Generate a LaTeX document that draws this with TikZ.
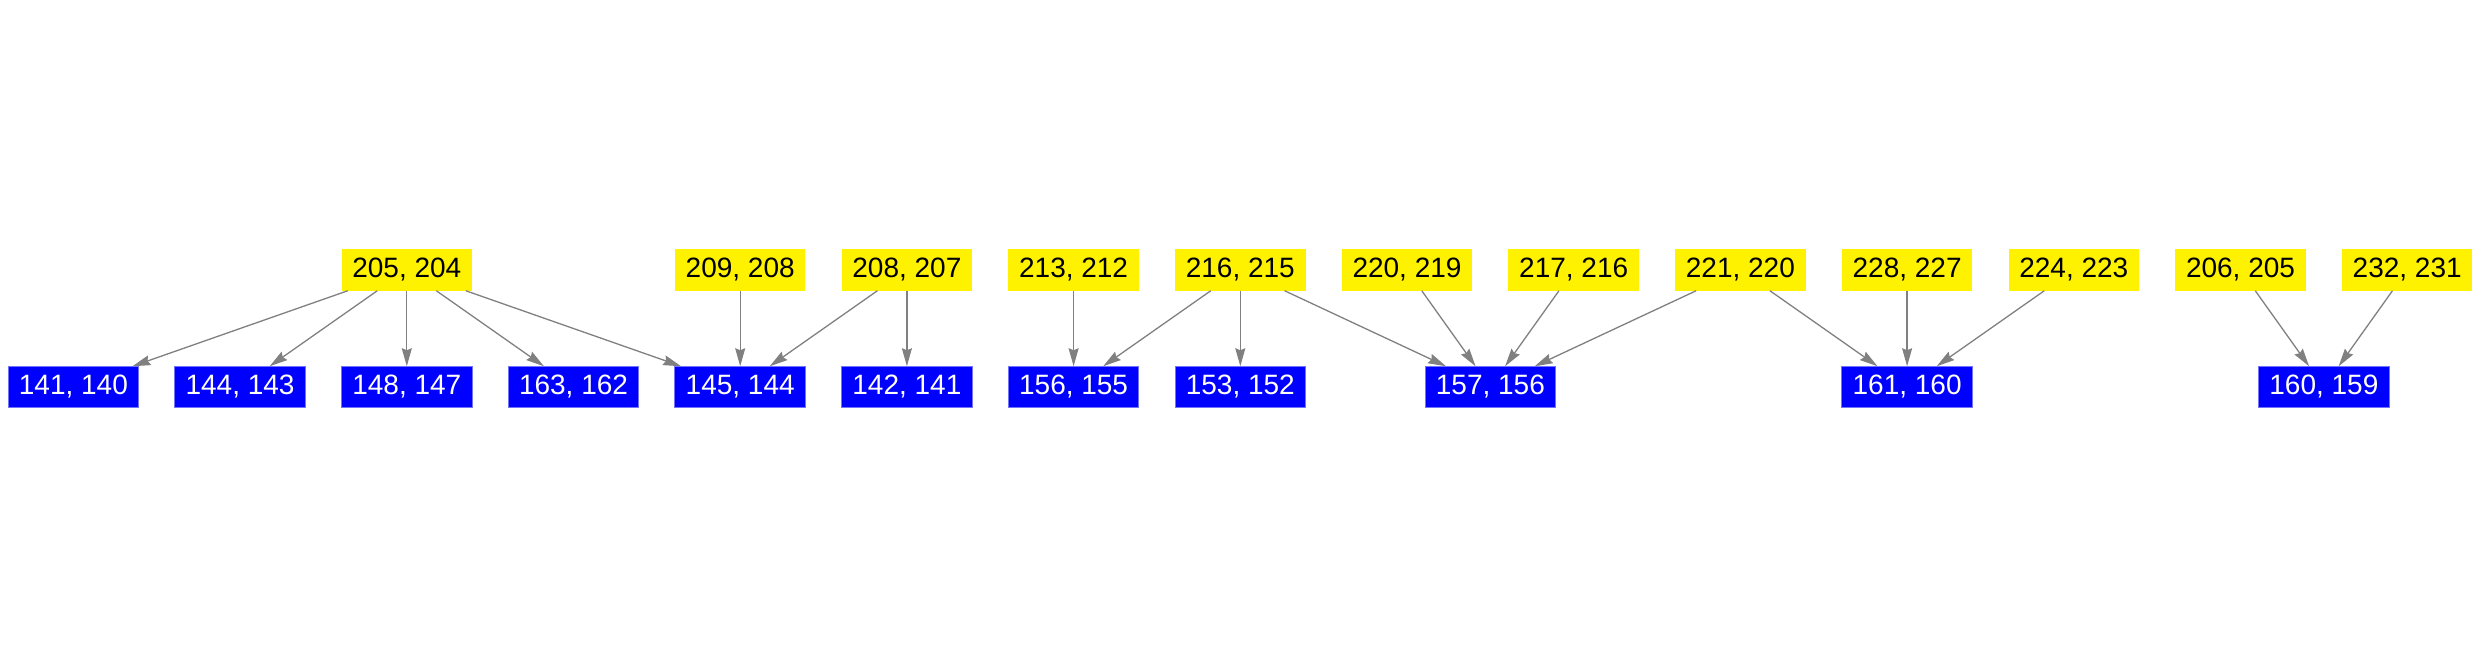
\documentclass[tikz,border=0pt]{standalone}
\usepackage{fontspec}
\setmainfont{Liberation Sans}
\usetikzlibrary{arrows.meta}
\begin{document}
\begin{tikzpicture}[x=1pt,y=-1pt,
  box/.style={rectangle, minimum width=130.5pt, minimum height=41.5pt, inner sep=0pt, outer sep=0pt, font=\fontsize{28}{32}\selectfont},
  src/.style={box, fill=yellow, text=black},
  dst/.style={box, fill=blue, draw=blue!55, line width=1pt, text=white},
  edge/.style={draw=gray, line width=1.3pt, -{Stealth[length=18pt,width=10pt,inset=2pt]}}]
\useasboundingbox (0,0) rectangle (2479,656);
\def\u{166.7}
\def\xo{406.8}
% sources
\node[src] (s205) at (\xo+0*\u,270) {205, 204};
\node[src] (s209) at (\xo+2*\u,270) {209, 208};
\node[src] (s208) at (\xo+3*\u,270) {208, 207};
\node[src] (s213) at (\xo+4*\u,270) {213, 212};
\node[src] (s216) at (\xo+5*\u,270) {216, 215};
\node[src] (s220) at (\xo+6*\u,270) {220, 219};
\node[src] (s217) at (\xo+7*\u,270) {217, 216};
\node[src] (s221) at (\xo+8*\u,270) {221, 220};
\node[src] (s228) at (\xo+9*\u,270) {228, 227};
\node[src] (s224) at (\xo+10*\u,270) {224, 223};
\node[src] (s206) at (\xo+11*\u,270) {206, 205};
\node[src] (s232) at (\xo+12*\u,270) {232, 231};
% targets
\node[dst] (t141) at (\xo-2*\u,387) {141, 140};
\node[dst] (t144) at (\xo-1*\u,387) {144, 143};
\node[dst] (t148) at (\xo+0*\u,387) {148, 147};
\node[dst] (t163) at (\xo+1*\u,387) {163, 162};
\node[dst] (t145) at (\xo+2*\u,387) {145, 144};
\node[dst] (t142) at (\xo+3*\u,387) {142, 141};
\node[dst] (t156) at (\xo+4*\u,387) {156, 155};
\node[dst] (t153) at (\xo+5*\u,387) {153, 152};
\node[dst] (t157) at (\xo+6.5*\u,387) {157, 156};
\node[dst] (t161) at (\xo+9*\u,387) {161, 160};
\node[dst] (t160) at (\xo+11.5*\u,387) {160, 159};
% edges
\foreach \a/\b in {s205/t141, s205/t144, s205/t148, s205/t163, s205/t145,
  s209/t145, s208/t145, s208/t142, s213/t156,
  s216/t156, s216/t153, s216/t157, s220/t157, s217/t157,
  s221/t157, s221/t161, s228/t161, s224/t161, s206/t160, s232/t160}
  \draw[edge] (\a) -- (\b);
\end{tikzpicture}
\end{document}
